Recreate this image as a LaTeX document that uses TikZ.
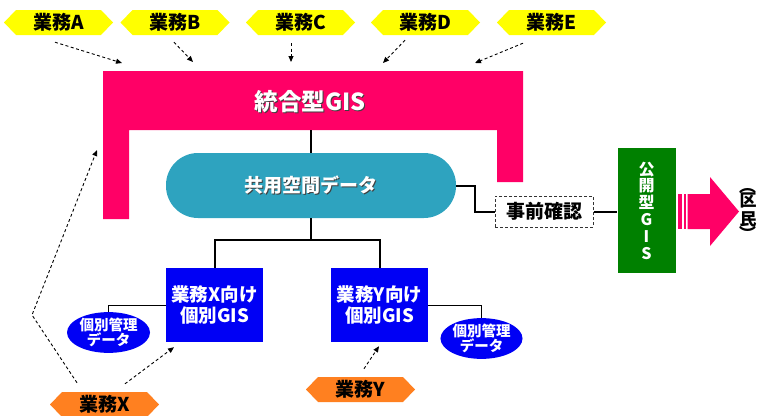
\documentclass[tikz,border=0pt]{standalone}
\usepackage{fontspec}
\setmainfont{Noto Sans CJK JP}
\usetikzlibrary{calc,arrows.meta,shapes.geometric}
\definecolor{mag}{HTML}{FF0066}
\definecolor{cyanb}{HTML}{2EA3BF}
\definecolor{bluex}{HTML}{0000F5}
\definecolor{greenb}{HTML}{008000}
\definecolor{yel}{HTML}{FFFF00}
\definecolor{org}{HTML}{FF8020}
\newcommand\shtxt[1]{\rlap{\kern1.3pt\raisebox{-1.3pt}{\textcolor{black!75}{#1}}}#1}
\newcommand\hexbg[2]{\fill[#2] ($(#1)+(-54.5,0)$) -- ++(12,-12.5) -- ++(85,0) -- ++(12,12.5) -- ++(-12,12.5) -- ++(-85,0) -- cycle;}
\begin{document}
\begin{tikzpicture}[x=1pt,y=-1pt,
  hexlbl/.style={minimum width=85pt,minimum height=25pt,inner sep=0pt,font=\bfseries\fontsize{19}{19}\selectfont},
  conn/.style={line width=2pt,black},
  thin/.style={line width=1pt,black},
  darr/.style={line width=0.9pt,dash pattern=on 3pt off 2.5pt,-{Triangle[length=6pt,width=5pt]}},
  stad/.style={fill=cyanb,rounded corners=32pt,minimum width=290pt,minimum height=65pt,text=white,font=\bfseries\fontsize{19}{20}\selectfont},
  gisbox/.style={fill=bluex,minimum width=97pt,minimum height=74pt,text=white,align=center,inner sep=0pt,font=\bfseries\fontsize{18.5}{21}\selectfont},
  oval/.style={ellipse,fill=bluex,text=white,align=center,inner sep=0pt,font=\bfseries\fontsize{14.5}{15}\selectfont},
  paren/.style={inner sep=0pt,font=\bfseries\fontsize{17}{17}\selectfont},
]
\useasboundingbox (0,0) rectangle (760,415);
% top hexagons
\hexbg{58.5,22.5}{yel}\node[hexlbl] (hA) at (58.5,22.5) {業務A};
\hexbg{175,22.5}{yel}\node[hexlbl] (hB) at (175,22.5) {業務B};
\hexbg{300.5,22.5}{yel}\node[hexlbl] (hC) at (300.5,22.5) {業務C};
\hexbg{425.5,22.5}{yel}\node[hexlbl] (hD) at (425.5,22.5) {業務D};
\hexbg{551.5,22.5}{yel}\node[hexlbl] (hE) at (551.5,22.5) {業務E};
% integrated GIS (inverted U)
\fill[mag] (103,71) -- (523,71) -- (523,182) -- (497,182) -- (497,130) -- (129,130) -- (129,219) -- (103,219) -- cycle;
\node[text=white,font=\bfseries\fontsize{23.5}{24}\selectfont] (togo) at (310,102) {\shtxt{統合型GIS}};
\coordinate (barbot) at (311,130);
% shared spatial data
\node[stad] (kyoyo) at (311,185.5) {\shtxt{共用空間データ}};
\draw[conn] (barbot) -- (kyoyo.north);
% individual GIS
\node[gisbox] (boxX) at (214.5,305) {業務X向け\\個別GIS};
\node[gisbox] (boxY) at (379.5,305) {業務Y向け\\個別GIS};
\coordinate (j) at (311,240);
\draw[conn] (kyoyo.south) -- (j);
\draw[conn] (boxX.north) -- (boxX.north |- j) -- (boxY.north |- j) -- (boxY.north);
% management data
\node[oval,minimum width=83pt,minimum height=39pt] (ovX) at (108.5,332.5) {個別管理\\データ};
\node[oval,minimum width=79pt,minimum height=37pt] (ovY) at (481.5,338.5) {個別管理\\データ};
\draw[thin] (ovX.north) |- (boxX.west);
\draw[thin] (boxY.east) -| (ovY.north);
% prior check + public GIS
\node[draw=black!80,line width=1pt,dash pattern=on 3pt off 2pt,fill=white,minimum width=98pt,minimum height=31pt,inner sep=0pt,font=\bfseries\fontsize{19}{19}\selectfont] (jizen) at (544,211.5) {事前確認};
\node[fill=greenb,minimum width=58pt,minimum height=125pt,text=white,align=center,inner sep=0pt,font=\bfseries\fontsize{16}{16.8}\selectfont] (kokai) at (646.5,210.5) {公\\開\\型\\G\\I\\S};
\draw[conn] (kyoyo.east) -- ++(19,0) |- (jizen.west);
\draw[conn] (jizen.east) -- (jizen.east -| kokai.west);
% arrow to residents
\fill[mag] (678,194) rectangle (681.5,229);
\fill[mag] (683.5,194) rectangle (685.5,229);
\fill[mag] (687.5,194) -- (710,194) -- (710,177) -- (739,211.5) -- (710,246) -- (710,229) -- (687.5,229) -- cycle;
\node[align=center,inner sep=0pt,font=\bfseries\fontsize{17}{19}\selectfont] (kumin) at (748,210) {区\\民};
\node[paren,rotate=-90] (pl) at (748,186) {（};
\node[paren,rotate=-90] (pr) at (748,234) {）};
% bottom hexagons
\hexbg{104.5,404.5}{org}\node[hexlbl] (hX) at (104.5,404.5) {業務X};
\hexbg{360.5,389.5}{org}\node[hexlbl] (hY) at (360.5,389.5) {業務Y};
% dashed arrows
\coordinate (tA) at (122,63);
\coordinate (tB) at (193,62);
\coordinate (tC) at (291,62);
\coordinate (tD) at (383,63);
\coordinate (tE) at (475,63);
\coordinate (tL) at (97,150);
\coordinate (bend) at (32,315);
\draw[darr] ($(hA.south)+(-3.5,7)$) -- (tA);
\draw[darr] ($(hB.south)+(-1,7)$) -- (tB);
\draw[darr] ($(hC.south)+(-9.5,8)$) -- (tC);
\draw[darr] ($(hD.south)+(-20.5,5)$) -- (tD);
\draw[darr] ($(hE.south)+(-28.5,8)$) -- (tE);
\draw[darr] ($(hX.north)+(-27.5,-9)$) -- (bend) -- (tL);
\draw[darr] ($(hX.north)+(20.5,-8)$) -- ($(boxX.south)+(-40.5,5)$);
\draw[darr] ($(hY.north)+(3.5,-8)$) -- ($(boxY.south)+(-0.5,4)$);
\end{tikzpicture}
\end{document}
